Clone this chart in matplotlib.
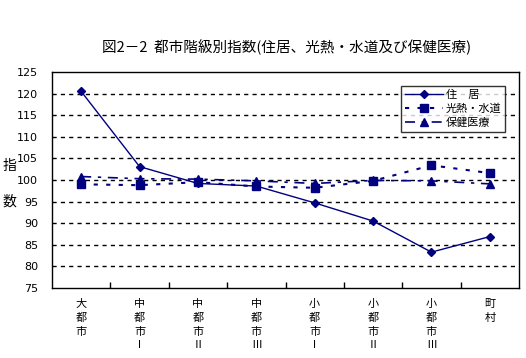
import numpy as np
import matplotlib
matplotlib.use('Agg')
import matplotlib.pyplot as plt
from matplotlib.ticker import FixedLocator

plt.rcParams['font.family'] = ['Noto Sans CJK JP', 'DejaVu Sans']

# データ
categories = ['大\n都\n市', '中\n都\n市\nⅠ', '中\n都\n市\nⅡ', '中\n都\n市\nⅢ',
              '小\n都\n市\nⅠ', '小\n都\n市\nⅡ', '小\n都\n市\nⅢ', '町\n村']
jukyo = [120.5, 103.1, 99.2, 98.6, 94.7, 90.5, 83.3, 86.9]
kounetsu = [99.0, 98.8, 99.5, 98.5, 98.2, 99.8, 103.4, 101.6]
hoken = [100.8, 100.3, 100.2, 99.8, 99.2, 99.9, 99.8, 99.1]

navy = '#000080'
W, H = 526, 358
fig = plt.figure(figsize=(W / 100, H / 100), dpi=100)
ax = fig.add_axes([52 / W, (H - 288) / H, (519 - 52) / W, (288 - 72) / H])

x = np.arange(len(categories)) + 0.5
ax.plot(x, jukyo, color=navy, lw=1, marker='D', ms=4.5, label='住　居')
ax.plot(x, kounetsu, color=navy, lw=1.5, ls=(0, (2, 4)), marker='s', ms=5.5,
        label='光熱・水道')
ax.plot(x, hoken, color=navy, lw=1.2, ls=(0, (6, 4, 2, 4)), marker='^', ms=6,
        label='保健医療')

ax.set_xlim(0, 8)
ax.set_ylim(75, 125)
ax.set_yticks(range(75, 126, 5))
ax.tick_params(axis='y', length=0, labelsize=8, pad=10)
for lab in ax.get_yticklabels():
    lab.set_family('DejaVu Sans')
ax.set_xticks(x)
ax.set_xticklabels(categories, fontsize=8, linespacing=1.45, va='top')
ax.tick_params(axis='x', which='major', length=0, pad=8)
ax.xaxis.set_minor_locator(FixedLocator(range(1, 8)))
ax.tick_params(axis='x', which='minor', direction='in', length=4, width=1)

for v in range(80, 125, 5):
    ax.axhline(v, color='black', lw=1, ls=(0, (3, 3)), zorder=0)
for s in ax.spines.values():
    s.set_linewidth(1)

fig.text(3 / W, 1 - 166 / H, '指', fontsize=10, ha='left', va='center')
fig.text(3 / W, 1 - 202 / H, '数', fontsize=10, ha='left', va='center')

fig.text(287 / W, 1 - 47 / H, '図2－2  都市階級別指数(住居、光熱・水道及び保健医療)',
         fontsize=10.5, ha='center', va='center')

leg = ax.legend(loc='upper right', bbox_to_anchor=(0.971, 0.935), fontsize=8,
                frameon=True, fancybox=False, edgecolor='black',
                handlelength=3.4, borderpad=0.35, labelspacing=0.3,
                handletextpad=0.3, borderaxespad=0)
leg.get_frame().set_linewidth(1)

fig.savefig('out.png', dpi=100)
